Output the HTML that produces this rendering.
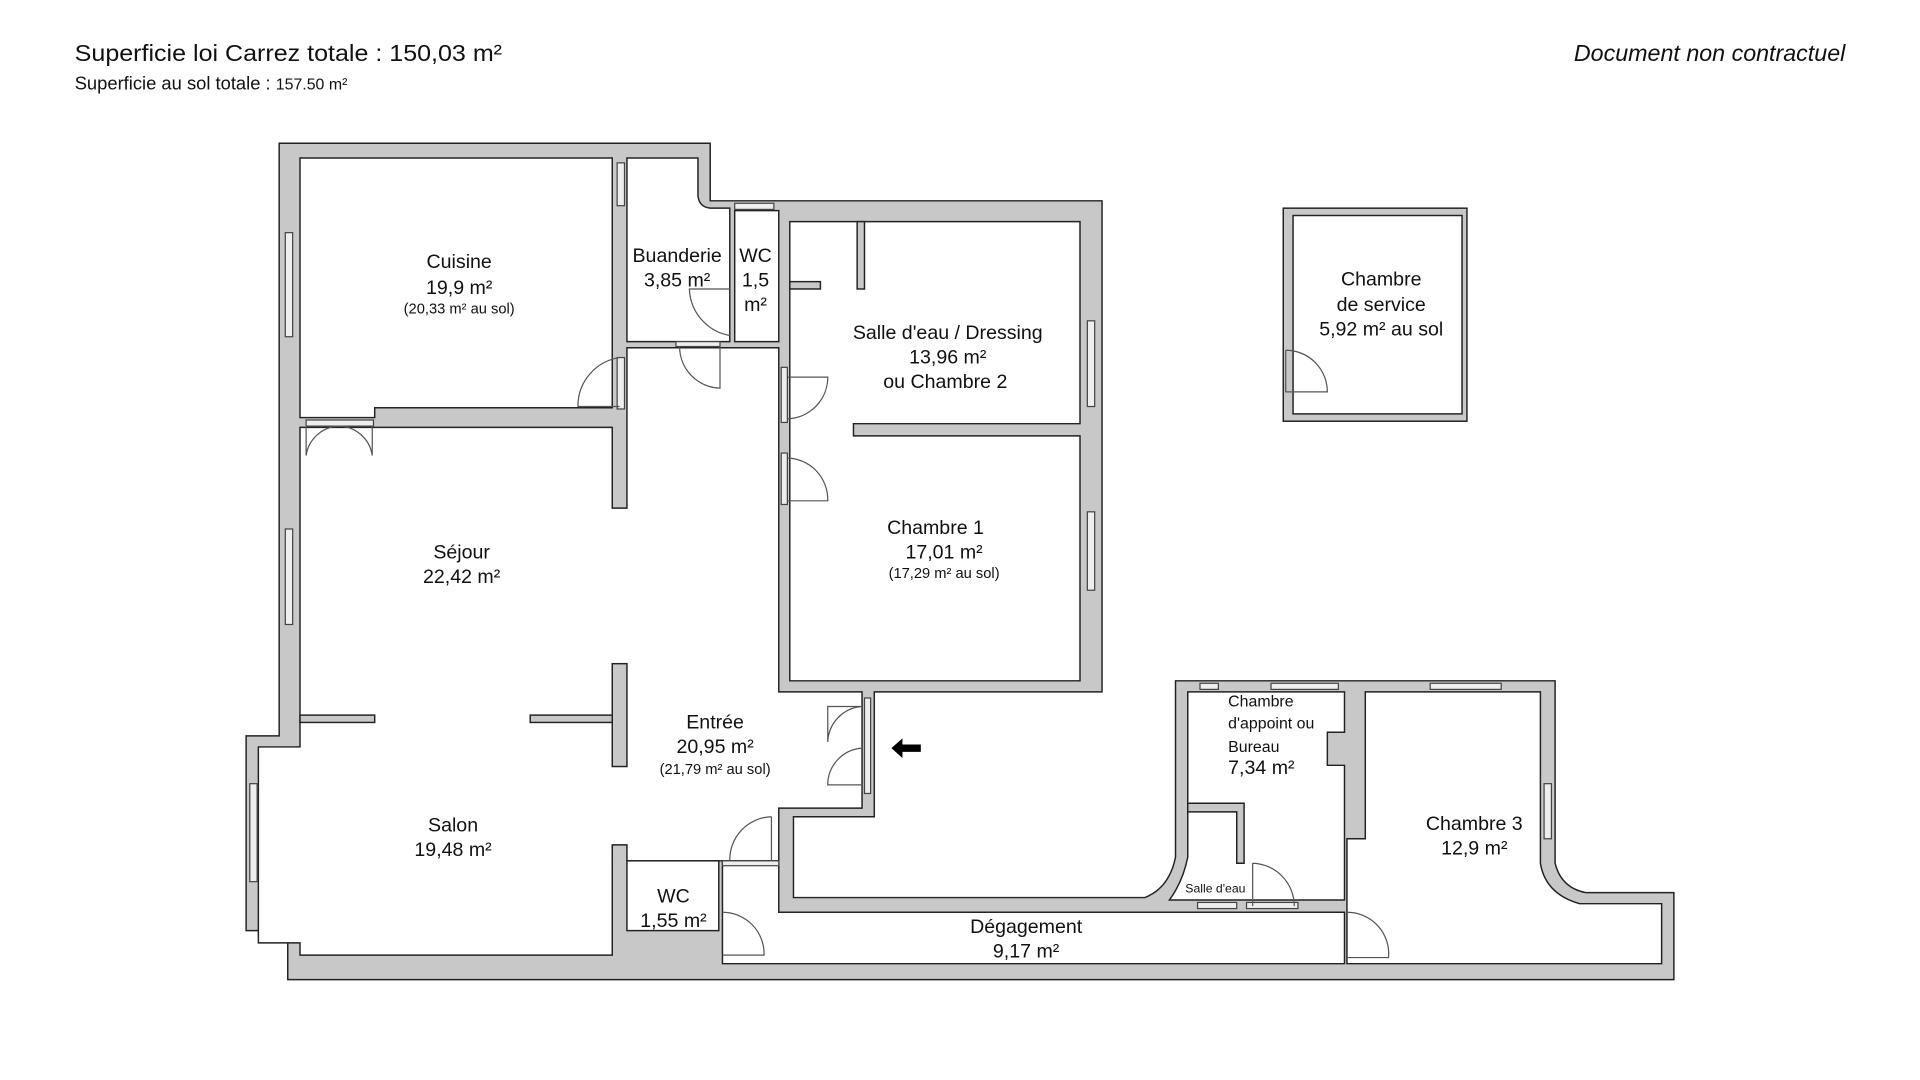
<!DOCTYPE html>
<html><head><meta charset="utf-8"><style>
html,body{margin:0;padding:0;background:#fff;width:1920px;height:1080px;overflow:hidden}
svg{display:block}
text{font-family:"Liberation Sans",sans-serif;fill:#111}
</style></head><body>
<svg width="1920" height="1080" viewBox="0 0 1568 882" preserveAspectRatio="none">
<g stroke="#222" stroke-width="1.2" stroke-linejoin="miter">
<path fill="#c8c8c8" d="M228,117 L580,117 L580,164 L900,164 L900,565 L714,565 L714,667 L648,667 L648,733 L935,733 Q955,725 960,700 L960,556 L1270,556 L1270,705 Q1275,725 1295,729 L1367,729 L1367,800 L235,800 L235,760 L201,760 L201,601 L228,601 Z"/>
<rect x="1048" y="170" width="150" height="174" fill="#c8c8c8"/>
<rect x="1056" y="176" width="138" height="162" fill="#fff"/>
<path fill="#fff" d="M245,129 L500,129 L500,333 L306,333 L306,341 L245,341 Z"/>
<path fill="#fff" d="M512,129 L570,129 L570,160 Q571,169 580,170 L596,170 L596,279 L512,279 Z"/>
<rect x="600" y="172" width="36" height="107" fill="#fff"/>
<path fill="#fff" d="M645,181 L882,181 L882,346 L697,346 L697,356 L882,356 L882,556 L645,556 Z"/>
<path fill="#fff" d="M245,349 L500,349 L500,415 L512,415 L512,284 L636,284 L636,565 L704,565 L704,660 L636,660 L636,703 L512,703 L512,690 L500,690 L500,780 L245,780 L245,770 L211,770 L211,610 L245,610 Z"/>
<rect x="512" y="703" width="75" height="57" fill="#fff"/>
<path fill="#fff" d="M590,703 L636,703 L636,745 L1098,745 L1098,787 L590,787 Z"/>
<path fill="#fff" d="M970,565 L1098,565 L1098,598 L1084,598 L1084,625 L1098,625 L1098,735 L955,735 Q966,720 970,700 Z"/>
<path fill="#fff" d="M1115,565 L1258,565 L1258,705 Q1262,730 1290,738 L1357,738 L1357,787 L1100,787 L1100,685 L1115,685 Z"/>
<rect x="245" y="584" width="61" height="6" fill="#c8c8c8"/>
<rect x="433" y="584" width="67" height="6" fill="#c8c8c8"/>
<rect x="500" y="542" width="12" height="84" fill="#c8c8c8"/>
<rect x="645" y="230" width="25" height="6" fill="#c8c8c8"/>
<rect x="700" y="181" width="6" height="55" fill="#c8c8c8"/>
<path fill="#c8c8c8" d="M970,656 L1016,656 L1016,705 L1010,705 L1010,663 L970,663 Z"/>
</g>
<g fill="#eee" stroke="#444" stroke-width="1">
<rect x="233" y="190" width="6" height="85"/><rect x="233" y="432" width="6" height="78"/>
<rect x="504" y="133" width="6" height="35"/><rect x="504" y="292" width="6" height="42"/>
<rect x="600" y="166" width="32" height="5"/>
<rect x="888" y="262" width="6" height="70"/><rect x="888" y="418" width="6" height="64"/>
<rect x="638" y="300" width="5" height="45"/><rect x="638" y="370" width="5" height="42"/>
<rect x="706" y="570" width="5" height="78"/>
<rect x="204" y="640" width="6" height="80"/>
<rect x="980" y="558" width="15" height="5"/><rect x="1038" y="558" width="55" height="5"/><rect x="1168" y="558" width="58" height="5"/>
<rect x="1261" y="640" width="6" height="45"/>
<rect x="978" y="737" width="32" height="5"/><rect x="1018" y="737" width="42" height="5"/>
<rect x="250" y="343" width="55" height="5"/><rect x="552" y="279" width="36" height="4"/>
<rect x="590" y="703" width="46" height="4"/>
</g>
<g fill="none" stroke="#555" stroke-width="1">
<path d="M506,292 A40,40 0 0 0 472,332 L506,332"/>
<path d="M596,236 L563,236 A40,40 0 0 0 596,274"/>
<path d="M588,283 L588,317 A34,34 0 0 1 555,283"/>
<path d="M643,308 L676,308 A34,34 0 0 1 643,342"/>
<path d="M643,374 A34,34 0 0 1 676,409 L643,409"/>
<path d="M250,372 A28,28 0 0 1 276,348 M304,372 A28,28 0 0 0 276,348 M250,348 L250,372 M304,348 L304,372"/>
<path d="M704,577 L676,577 L676,606 A30,30 0 0 1 704,577 M704,611 A30,30 0 0 0 676,641 L704,641"/>
<path d="M630,667 A35,35 0 0 0 596,703 M630,667 L630,703"/>
<path d="M590,745 A34,34 0 0 1 624,780 L590,780"/>
<path d="M1023,705 A35,35 0 0 1 1057,740 M1023,705 L1023,740"/>
<path d="M1100,745 A34,34 0 0 1 1134,782 L1100,782"/>
<path d="M1050,286 A34,34 0 0 1 1084,320 L1050,320 L1050,286"/>
</g>
<path d="M728,611 L737,603 L737,608 L752,608 L752,614 L737,614 L737,619 Z" fill="#000"/>
<text x="61" y="50" font-size="19" textLength="349" lengthAdjust="spacingAndGlyphs">Superficie loi Carrez totale :  150,03 m²</text>
<text x="61" y="73" font-size="15">Superficie au sol totale :  <tspan font-size="13">157.50  m²</tspan></text>
<text x="1507" y="50" font-size="19" font-style="italic" text-anchor="end">Document non contractuel</text>
<g font-size="16" text-anchor="middle">
<text x="375" y="219">Cuisine</text><text x="375" y="240">19,9 m²</text><text x="375" y="256" font-size="12">(20,33 m² au sol)</text>
<text x="553" y="214">Buanderie</text><text x="553" y="234">3,85 m²</text>
<text x="617" y="214">WC</text><text x="617" y="234">1,5</text><text x="617" y="254">m²</text>
<text x="774" y="277">Salle d'eau / Dressing</text><text x="774" y="297">13,96 m²</text><text x="772" y="317">ou Chambre 2</text>
<text x="764" y="436">Chambre 1</text><text x="771" y="456">17,01 m²</text><text x="771" y="472" font-size="12">(17,29 m² au sol)</text>
<text x="377" y="456">Séjour</text><text x="377" y="476">22,42 m²</text>
<text x="584" y="595">Entrée</text><text x="584" y="615">20,95 m²</text><text x="584" y="632" font-size="12">(21,79 m² au sol)</text>
<text x="370" y="679">Salon</text><text x="370" y="699">19,48 m²</text>
<text x="550" y="737">WC</text><text x="550" y="757">1,55 m²</text>
<text x="838" y="762">Dégagement</text><text x="838" y="782">9,17 m²</text>
<text x="1128" y="233">Chambre</text><text x="1128" y="254">de service</text><text x="1128" y="274">5,92 m² au sol</text>
<text x="1204" y="678">Chambre 3</text><text x="1204" y="698">12,9 m²</text>
</g>
<g font-size="13">
<text x="1003" y="577">Chambre</text><text x="1003" y="595">d'appoint ou</text><text x="1003" y="614">Bureau</text>
<text x="1003" y="632" font-size="16">7,34 m²</text>
<text x="968" y="729" font-size="10">Salle d'eau</text>
</g>
</svg>
</body></html>
